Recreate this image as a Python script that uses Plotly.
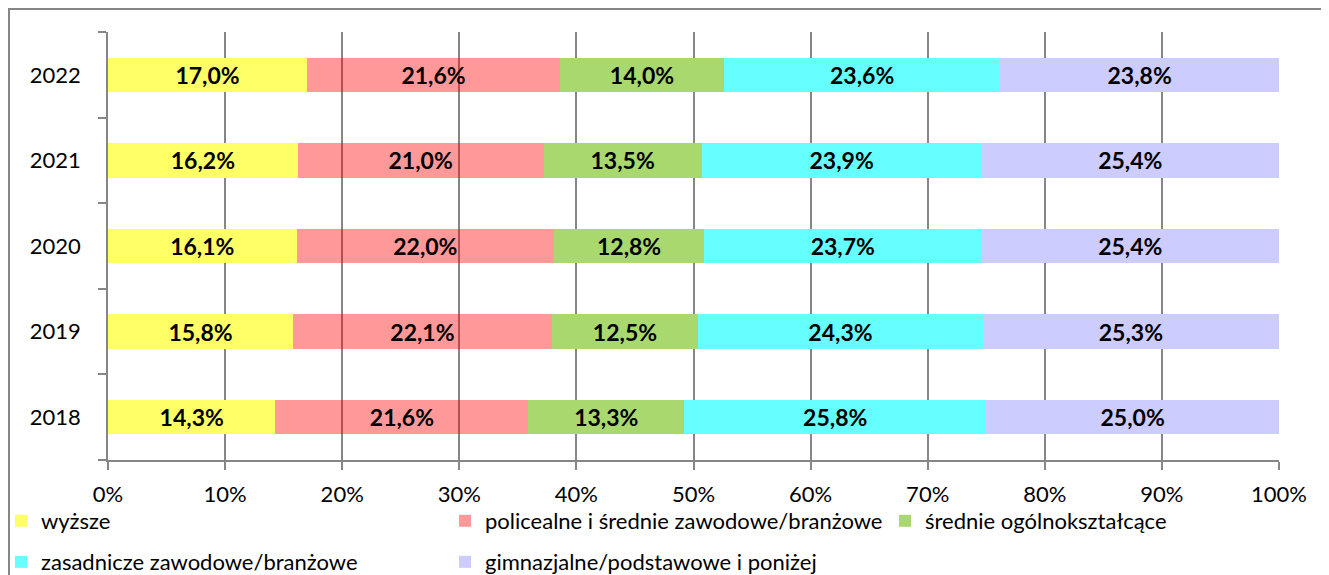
import plotly.graph_objects as go

years = ["2018", "2019", "2020", "2021", "2022"]
series_names = [
    "wyższe",
    "policealne i średnie zawodowe/branżowe",
    "średnie ogólnokształcące",
    "zasadnicze zawodowe/branżowe",
    "gimnazjalne/podstawowe i poniżej",
]
wyzsze = [14.3, 15.8, 16.1, 16.2, 17.0]
policealne = [21.6, 22.1, 22.0, 21.0, 21.6]
srednie = [13.3, 12.5, 12.8, 13.5, 14.0]
zasadnicze = [25.8, 24.3, 23.7, 23.9, 23.6]
gimnazjalne = [25.0, 25.3, 25.4, 25.4, 23.8]
x_ticks = [0, 10, 20, 30, 40, 50, 60, 70, 80, 90, 100]

series_values = [wyzsze, policealne, srednie, zasadnicze, gimnazjalne]
colors = ["#FFFF66", "rgba(255,0,0,0.4)", "#A9D86E", "#66FFFF", "#CCCCFF"]
legend_ids = ["legend", "legend", "legend3", "legend2", "legend2"]

FONT = "Lato"
W, H = 1321, 567
ML, MR, MT, MB = 100, 50, 24, 115
pw = W - ML - MR
ph = H - MT - MB

fig = go.Figure()
for name, vals, col, lg in zip(series_names, series_values, colors, legend_ids):
    fig.add_trace(go.Bar(
        y=years, x=vals, name=name, orientation="h", legend=lg,
        marker=dict(color=col, line=dict(width=0)),
        text=[f"{v:.1f}%".replace(".", ",") for v in vals],
        textposition="inside", insidetextanchor="middle", constraintext="none",
        textfont=dict(family=FONT, size=23, color="black", weight="bold"),
        hoverinfo="skip",
    ))

fig.add_shape(type="rect", xref="paper", yref="paper",
              x0=(1 - ML) / pw, x1=(W + 10 - ML) / pw,
              y0=-(H + 10 - MT - ph) / ph, y1=(ph + MT - 1) / ph,
              line=dict(color="#868686", width=2), fillcolor="rgba(0,0,0,0)", layer="below")

leg_common = dict(orientation="h", xanchor="left", yanchor="top",
                  entrywidth=399, entrywidthmode="pixels", traceorder="normal",
                  font=dict(family=FONT, size=22, color="black"),
                  itemwidth=30, bgcolor="rgba(0,0,0,0)", borderwidth=0)
leg_x = (-7 - ML) / pw
col_step = 442 / pw

fig.update_layout(
    width=W, height=H,
    margin=dict(l=ML, r=MR, t=MT, b=MB, autoexpand=False),
    barmode="stack", bargap=0.6,
    plot_bgcolor="white", paper_bgcolor="white",
    font=dict(family=FONT, size=22, color="black"),
    legend=dict(x=leg_x, y=-0.0935, **leg_common),
    legend2=dict(x=leg_x, y=-0.1893, **leg_common),
    legend3=dict(x=leg_x + 2 * col_step, y=-0.0935, **leg_common),
    xaxis=dict(range=[0, 100], tickmode="array", tickvals=x_ticks,
               ticktext=[f"{t}%" for t in x_ticks],
               showgrid=True, gridcolor="#868686", gridwidth=1.5,
               showline=True, linecolor="#868686", linewidth=1.5,
               ticks="outside", ticklen=8, tickcolor="#868686", tickwidth=1.5,
               ticklabelstandoff=6,
               zeroline=False, fixedrange=True,
               tickfont=dict(family=FONT, size=22, color="black")),
    yaxis=dict(type="category", categoryorder="array", categoryarray=years,
               showline=True, linecolor="#868686", linewidth=1.5,
               ticks="outside", ticklen=8, tickcolor="#868686", tickwidth=1.5,
               tickson="boundaries", showgrid=False, zeroline=False,
               ticklabelstandoff=21, fixedrange=True,
               tickfont=dict(family=FONT, size=22, color="black")),
)

fig.write_html("out.html")
